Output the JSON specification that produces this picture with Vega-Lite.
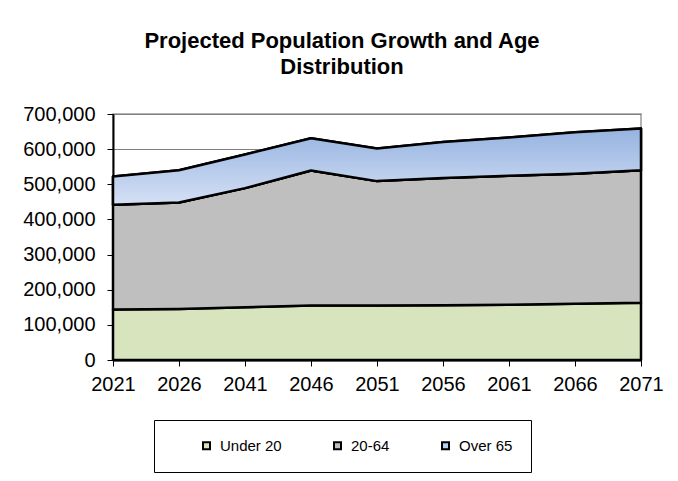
{
  "$schema": "https://vega.github.io/schema/vega-lite/v6.json",
  "width": 528,
  "height": 246,
  "autosize": {"type": "none"},
  "padding": {"left": 113, "top": 114, "right": 37, "bottom": 121},
  "background": "white",
  "title": {
    "text": ["Projected Population Growth and Age", "Distribution"],
    "font": "Liberation Sans",
    "fontSize": 22,
    "fontWeight": "bold",
    "color": "black",
    "anchor": "middle",
    "dx": -35,
    "offset": 25,
    "lineHeight": 26
  },
  "data": {
    "values": [
      {"year": "2021", "group": "Under 20", "order": 1, "pop": 144000},
      {"year": "2026", "group": "Under 20", "order": 1, "pop": 145000},
      {"year": "2041", "group": "Under 20", "order": 1, "pop": 150000},
      {"year": "2046", "group": "Under 20", "order": 1, "pop": 155000},
      {"year": "2051", "group": "Under 20", "order": 1, "pop": 155000},
      {"year": "2056", "group": "Under 20", "order": 1, "pop": 156000},
      {"year": "2061", "group": "Under 20", "order": 1, "pop": 157000},
      {"year": "2066", "group": "Under 20", "order": 1, "pop": 160000},
      {"year": "2071", "group": "Under 20", "order": 1, "pop": 163000},
      {"year": "2021", "group": "20-64", "order": 2, "pop": 298000},
      {"year": "2026", "group": "20-64", "order": 2, "pop": 303000},
      {"year": "2041", "group": "20-64", "order": 2, "pop": 339000},
      {"year": "2046", "group": "20-64", "order": 2, "pop": 384000},
      {"year": "2051", "group": "20-64", "order": 2, "pop": 354000},
      {"year": "2056", "group": "20-64", "order": 2, "pop": 362000},
      {"year": "2061", "group": "20-64", "order": 2, "pop": 367000},
      {"year": "2066", "group": "20-64", "order": 2, "pop": 370000},
      {"year": "2071", "group": "20-64", "order": 2, "pop": 377000},
      {"year": "2021", "group": "Over 65", "order": 3, "pop": 80000},
      {"year": "2026", "group": "Over 65", "order": 3, "pop": 92000},
      {"year": "2041", "group": "Over 65", "order": 3, "pop": 96000},
      {"year": "2046", "group": "Over 65", "order": 3, "pop": 92000},
      {"year": "2051", "group": "Over 65", "order": 3, "pop": 93000},
      {"year": "2056", "group": "Over 65", "order": 3, "pop": 102000},
      {"year": "2061", "group": "Over 65", "order": 3, "pop": 109000},
      {"year": "2066", "group": "Over 65", "order": 3, "pop": 118000},
      {"year": "2071", "group": "Over 65", "order": 3, "pop": 119000}
    ]
  },
  "transform": [
    {"stack": "pop", "groupby": ["year"], "sort": [{"field": "order", "order": "ascending"}], "as": ["lo", "hi"]}
  ],
  "encoding": {
    "x": {
      "field": "year",
      "type": "ordinal",
      "scale": {"type": "point", "padding": 0},
      "axis": {
        "title": null,
        "labelAngle": 0,
        "labelFont": "Liberation Sans",
        "labelFontSize": 20,
        "labelColor": "black",
        "labelPadding": 8,
        "domainColor": "black",
        "domainWidth": 2,
        "tickColor": "black",
        "tickWidth": 1,
        "tickSize": 6,
        "grid": false
      }
    },
    "y": {
      "field": "lo",
      "type": "quantitative",
      "scale": {"domain": [0, 700000], "nice": false},
      "axis": {
        "title": null,
        "values": [0, 100000, 200000, 300000, 400000, 500000, 600000, 700000],
        "format": ",d",
        "labelFont": "Liberation Sans",
        "labelFontSize": 20,
        "labelColor": "black",
        "labelPadding": 12,
        "domainColor": "black",
        "domainWidth": 2,
        "tickColor": "black",
        "tickWidth": 1,
        "tickSize": 6,
        "grid": true,
        "gridColor": "#808080",
        "gridWidth": 1
      }
    },
    "y2": {"field": "hi"}
  },
  "layer": [
    {
      "mark": {"type": "area", "stroke": "black", "strokeWidth": 2.5, "strokeJoin": "round", "fillOpacity": 1},
      "encoding": {
        "color": {
          "field": "group",
          "type": "nominal",
          "sort": ["Under 20", "20-64", "Over 65"],
          "scale": {"domain": ["Under 20", "20-64", "Over 65"], "range": ["#D7E4BD", "#BFBFBF", "#B9CDEE"]},
          "legend": {
            "title": " ",
            "titleOrient": "left",
            "titleFontSize": 1,
            "titlePadding": 27,
            "orient": "none",
            "direction": "horizontal",
            "legendX": 41,
            "legendY": 306,
            "padding": 18,
            "strokeColor": "black",
            "fillColor": "white",
            "symbolType": "square",
            "symbolSize": 49,
            "symbolStrokeColor": "black",
            "symbolStrokeWidth": 2,
            "symbolOpacity": 1,
            "labelFont": "Liberation Sans",
            "labelFontSize": 15,
            "labelColor": "black",
            "labelOffset": 6,
            "columnPadding": 48
          }
        }
      }
    },
    {
      "transform": [{"filter": "datum.group === 'Over 65'"}],
      "mark": {
        "type": "area",
        "stroke": "black",
        "strokeWidth": 2.5,
        "strokeJoin": "round",
        "fill": {
          "gradient": "linear",
          "x1": 0, "y1": 0, "x2": 0, "y2": 1,
          "stops": [
            {"offset": 0, "color": "#95B3E0"},
            {"offset": 1, "color": "#D5E0F5"}
          ]
        }
      }
    }
  ],
  "config": {
    "view": {"stroke": "#9A9A9A", "strokeWidth": 1.5},
    "axis": {"zindex": 1}
  }
}
